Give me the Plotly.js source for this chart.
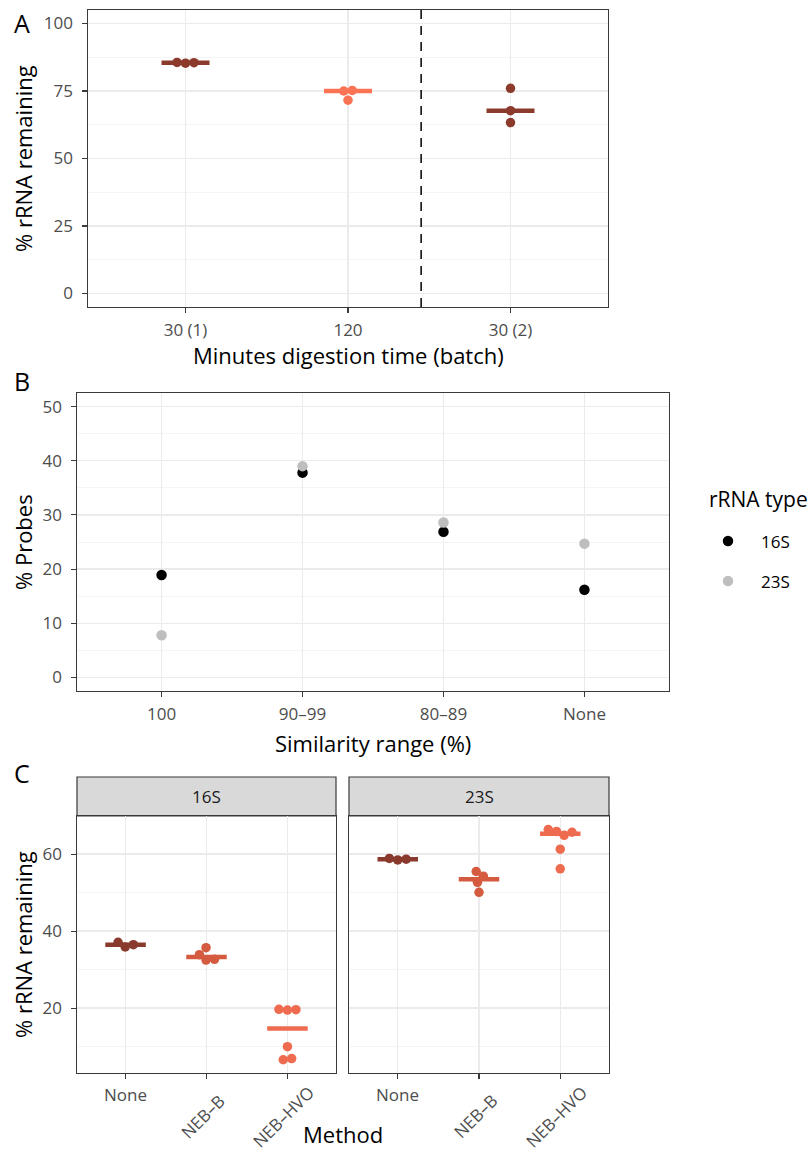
<!DOCTYPE html>
<html>
<head>
<meta charset="utf-8">
<script src="https://cdn.plot.ly/plotly-3.0.1.min.js"></script>
<style>html,body{margin:0;padding:0;background:#fff;}#chart{width:810px;height:1152px;}</style>
</head>
<body>
<div id="chart"></div>
<script>
// ---------------- DATA ----------------
// Panel A: % rRNA remaining by digestion time (batch)
const aGroups = ['30 (1)', '120', '30 (2)'];
const aValues = [
  [85.5, 85.3, 85.6],
  [75.2, 75.0, 71.6],
  [76.0, 67.7, 63.3]
];
const aCutAfter = 1.45; // dashed separator between batches (category units)

// Panel B: % probes per similarity range
const bCats = ['100', '90–99', '80–89', 'None'];
const b16S = [18.9, 37.8, 26.9, 16.2];
const b23S = [7.8, 39.0, 28.6, 24.7];
const bTypes = ['16S', '23S'];

// Panel C: % rRNA remaining by method, faceted by rRNA type
const cMethods = ['None', 'NEB–B', 'NEB–HVO'];
const cFacets = ['16S', '23S'];
const c16S = [
  [37.1, 36.5, 35.9],
  [35.7, 33.9, 32.7, 32.5],
  [19.7, 19.6, 19.5, 10.0, 6.9, 6.6]
];
const c23S = [
  [58.9, 58.7, 58.5],
  [55.5, 54.3, 52.7, 50.1],
  [66.4, 65.9, 65.7, 64.9, 61.3, 56.2]
];

// ---------------- STYLE ----------------
const W = 810, H = 1152;
const FONT = 'Open Sans, Noto Sans, DejaVu Sans, sans-serif';
const aColors = ['#8b3a2c', '#fa7354', '#8b3a2c'];
const bColors = ['#000000', '#bebebe'];
const cColors = ['#8a3a2d', '#d45b3f', '#ef6b4f'];
const PT = 9.5;   // point diameter px
const SP = 8.5;   // swarm spacing px
const TITLE = 22, TICK = 17;

const px = p => p / W;
const py = p => 1 - p / H;

// panel geometry (pixels)
const A = {l: 88, r: 608, t: 10, b: 307, xr: [-0.6, 2.6], yr: [-5, 105]};
const B = {l: 77, r: 669, t: 393, b: 691, xr: [-0.6, 3.6], yr: [-2.5, 52.5]};
const C1 = {l: 77, r: 336, t: 816, b: 1073, xr: [-0.6, 2.6], yr: [3.16, 69.92]};
const C2 = {l: 349, r: 609, t: 816, b: 1073, xr: [-0.6, 2.6], yr: [3.16, 69.92]};
const stripTop = 777;

function median(v) {
  const s = v.slice().sort((a, b) => a - b);
  const n = s.length;
  return n % 2 ? s[(n - 1) / 2] : (s[n / 2 - 1] + s[n / 2]) / 2;
}

// simple beeswarm: returns horizontal pixel offsets
function swarm(vals, pxPerY, d) {
  const n = vals.length;
  const order = vals.map((v, i) => i).sort((a, b) => vals[a] - vals[b]);
  const placed = [];
  const offs = new Array(n).fill(0);
  order.forEach(i => {
    const y = vals[i] * pxPerY;
    const cands = [0];
    placed.forEach(p => {
      const dy = y - p.y;
      if (Math.abs(dy) < d) {
        const h = Math.sqrt(d * d - dy * dy);
        cands.push(p.x + h, p.x - h);
      }
    });
    const ok = cands.filter(x => placed.every(p => (x - p.x) ** 2 + (y - p.y) ** 2 >= d * d - 1e-6));
    ok.sort((a, b) => Math.abs(a) - Math.abs(b));
    const x = ok.length ? ok[0] : 0;
    placed.push({x, y, i});
    offs[i] = x;
  });
  // centre vertically-connected clusters
  const sorted = placed.slice().sort((a, b) => a.y - b.y);
  let comp = [sorted[0]];
  const flush = () => {
    const m = comp.reduce((s, p) => s + p.x, 0) / comp.length;
    comp.forEach(p => { offs[p.i] = p.x - m; });
  };
  for (let k = 1; k < sorted.length; k++) {
    if (sorted[k].y - sorted[k - 1].y < d) comp.push(sorted[k]);
    else { flush(); comp = [sorted[k]]; }
  }
  flush();
  return offs;
}

const traces = [];

function addGroupTraces(groups, colors, panel, xa, ya, barPx) {
  const pxPerX = (panel.r - panel.l) / (panel.xr[1] - panel.xr[0]);
  const pxPerY = (panel.b - panel.t) / (panel.yr[1] - panel.yr[0]);
  groups.forEach((vals, g) => {
    const offs = swarm(vals, pxPerY, SP);
    traces.push({
      type: 'scatter', mode: 'markers', xaxis: xa, yaxis: ya,
      x: vals.map((v, k) => g + offs[k] / pxPerX), y: vals,
      marker: {color: colors[g], size: PT, line: {width: 0}},
      showlegend: false, hoverinfo: 'y'
    });
  });
  groups.forEach((vals, g) => {
    traces.push({
      type: 'scatter', mode: 'markers', xaxis: xa, yaxis: ya,
      x: [g], y: [median(vals)],
      marker: {symbol: 'line-ew', size: barPx / 1.4, color: colors[g], line: {color: colors[g], width: 4.5}},
      showlegend: false, hoverinfo: 'y'
    });
  });
}

addGroupTraces(aValues, aColors, A, 'x', 'y', 48);

[b16S, b23S].forEach((vals, s) => {
  traces.push({
    type: 'scatter', mode: 'markers', xaxis: 'x2', yaxis: 'y2',
    x: bCats.map((c, i) => i), y: vals, name: bTypes[s],
    marker: {color: bColors[s], size: 10.5},
    showlegend: false
  });
});

addGroupTraces(c16S, cColors, C1, 'x3', 'y3', 40.5);
addGroupTraces(c23S, cColors, C2, 'x4', 'y4', 40.5);

// ---------------- AXES ----------------
const base = {
  showline: true, mirror: true, linecolor: '#3a3a3a', linewidth: 1.2,
  ticks: 'outside', ticklen: 4.5, tickwidth: 1.1, tickcolor: '#3a3a3a',
  showgrid: true, gridcolor: '#ebebeb', gridwidth: 1.4,
  zeroline: false, automargin: false, fixedrange: true,
  tickfont: {family: FONT, size: TICK, color: '#4d4d4d'}
};
function xAxis(p, anchor, labels, showLabels) {
  return Object.assign({}, base, {
    domain: [px(p.l), px(p.r)], range: p.xr, anchor: anchor,
    tickmode: 'array', tickvals: labels.map((c, i) => i), ticktext: labels,
    showticklabels: showLabels, ticklabelstandoff: 3
  });
}
function yAxis(p, anchor, dtick, showLabels) {
  return Object.assign({}, base, {
    domain: [py(p.b), py(p.t)], range: p.yr, anchor: anchor,
    tick0: 0, dtick: dtick, showticklabels: showLabels,
    ticks: showLabels ? 'outside' : '', ticklabelstandoff: 6,
    minor: {dtick: dtick / 2, tick0: 0, showgrid: true, gridcolor: '#f2f2f2', gridwidth: 0.8, ticks: ''}
  });
}

const ann = [];
function text(t, x, y, size, opts) {
  ann.push(Object.assign({
    text: t, x: px(x), y: py(y), xref: 'paper', yref: 'paper',
    showarrow: false, xanchor: 'center', yanchor: 'middle',
    font: {family: FONT, size: size, color: '#000'}
  }, opts || {}));
}

// panel letters
text('A', 22, 23, 25);
text('B', 22, 381, 25);
text('C', 22, 773, 25);
// axis titles
text('% rRNA remaining', 23, 159, TITLE, {textangle: -90});
text('Minutes digestion time (batch)', (A.l + A.r) / 2, 355, TITLE);
text('% Probes', 23, 542, TITLE, {textangle: -90});
text('Similarity range (%)', (B.l + B.r) / 2, 743, TITLE);
text('% rRNA remaining', 23, 945, TITLE, {textangle: -90});
text('Method', (C1.l + C2.r) / 2, 1134, TITLE);
// legend
text('rRNA type', 707, 499, TITLE - 1, {xanchor: 'left'});
bTypes.forEach((t, s) => text(t, 759, 541 + 40 * s, TICK, {xanchor: 'left'}));
// strip labels
cFacets.forEach((f, k) => {
  ann.push({text: f, xref: (k ? 'x4' : 'x3') + ' domain', x: 0.5, yref: 'paper', y: py((stripTop + C1.t) / 2),
    showarrow: false, xanchor: 'center', yanchor: 'middle', font: {family: FONT, size: TICK, color: '#1a1a1a'}});
});
// facet x labels (None horizontal, others rotated)
['x3', 'x4'].forEach(xa => {
  cMethods.forEach((m, i) => {
    const rot = i > 0;
    ann.push({text: m, xref: xa, x: i, yref: 'paper', y: py(rot ? 1116 : 1094),
      xshift: rot ? -4 : 0, textangle: rot ? -45 : 0,
      showarrow: false, xanchor: 'center', yanchor: 'middle',
      font: {family: FONT, size: TICK, color: '#4d4d4d'}});
  });
});

const shapes = [
  {type: 'line', xref: 'x', yref: 'y domain', x0: aCutAfter, x1: aCutAfter, y0: 0, y1: 1,
   line: {color: '#000', width: 1.5, dash: '9px,7px'}},
];
cFacets.forEach((f, k) => {
  shapes.push({type: 'rect', xref: (k ? 'x4' : 'x3') + ' domain', x0: 0, x1: 1, yref: 'paper',
    y0: py(C1.t), y1: py(stripTop), fillcolor: '#d9d9d9', line: {color: '#3a3a3a', width: 1.2}, layer: 'below'});
});
bTypes.forEach((t, s) => {
  shapes.push({type: 'circle', xsizemode: 'pixel', ysizemode: 'pixel', xref: 'paper', yref: 'paper',
    xanchor: px(728), yanchor: py(541 + 40 * s), x0: -5.25, x1: 5.25, y0: -5.25, y1: 5.25,
    fillcolor: bColors[s], line: {width: 0}});
});

const layout = {
  width: W, height: H, margin: {l: 0, r: 0, t: 0, b: 0, pad: 0},
  paper_bgcolor: '#fff', plot_bgcolor: '#fff', showlegend: false,
  font: {family: FONT, color: '#000'},
  xaxis: xAxis(A, 'y', aGroups, true),
  yaxis: yAxis(A, 'x', 25, true),
  xaxis2: xAxis(B, 'y2', bCats, true),
  yaxis2: yAxis(B, 'x2', 10, true),
  xaxis3: xAxis(C1, 'y3', cMethods, false),
  yaxis3: yAxis(C1, 'x3', 20, true),
  xaxis4: xAxis(C2, 'y4', cMethods, false),
  yaxis4: yAxis(C2, 'x4', 20, false),
  annotations: ann, shapes: shapes
};

Plotly.newPlot('chart', traces, layout, {displayModeBar: false, staticPlot: true});
</script>
</body>
</html>
